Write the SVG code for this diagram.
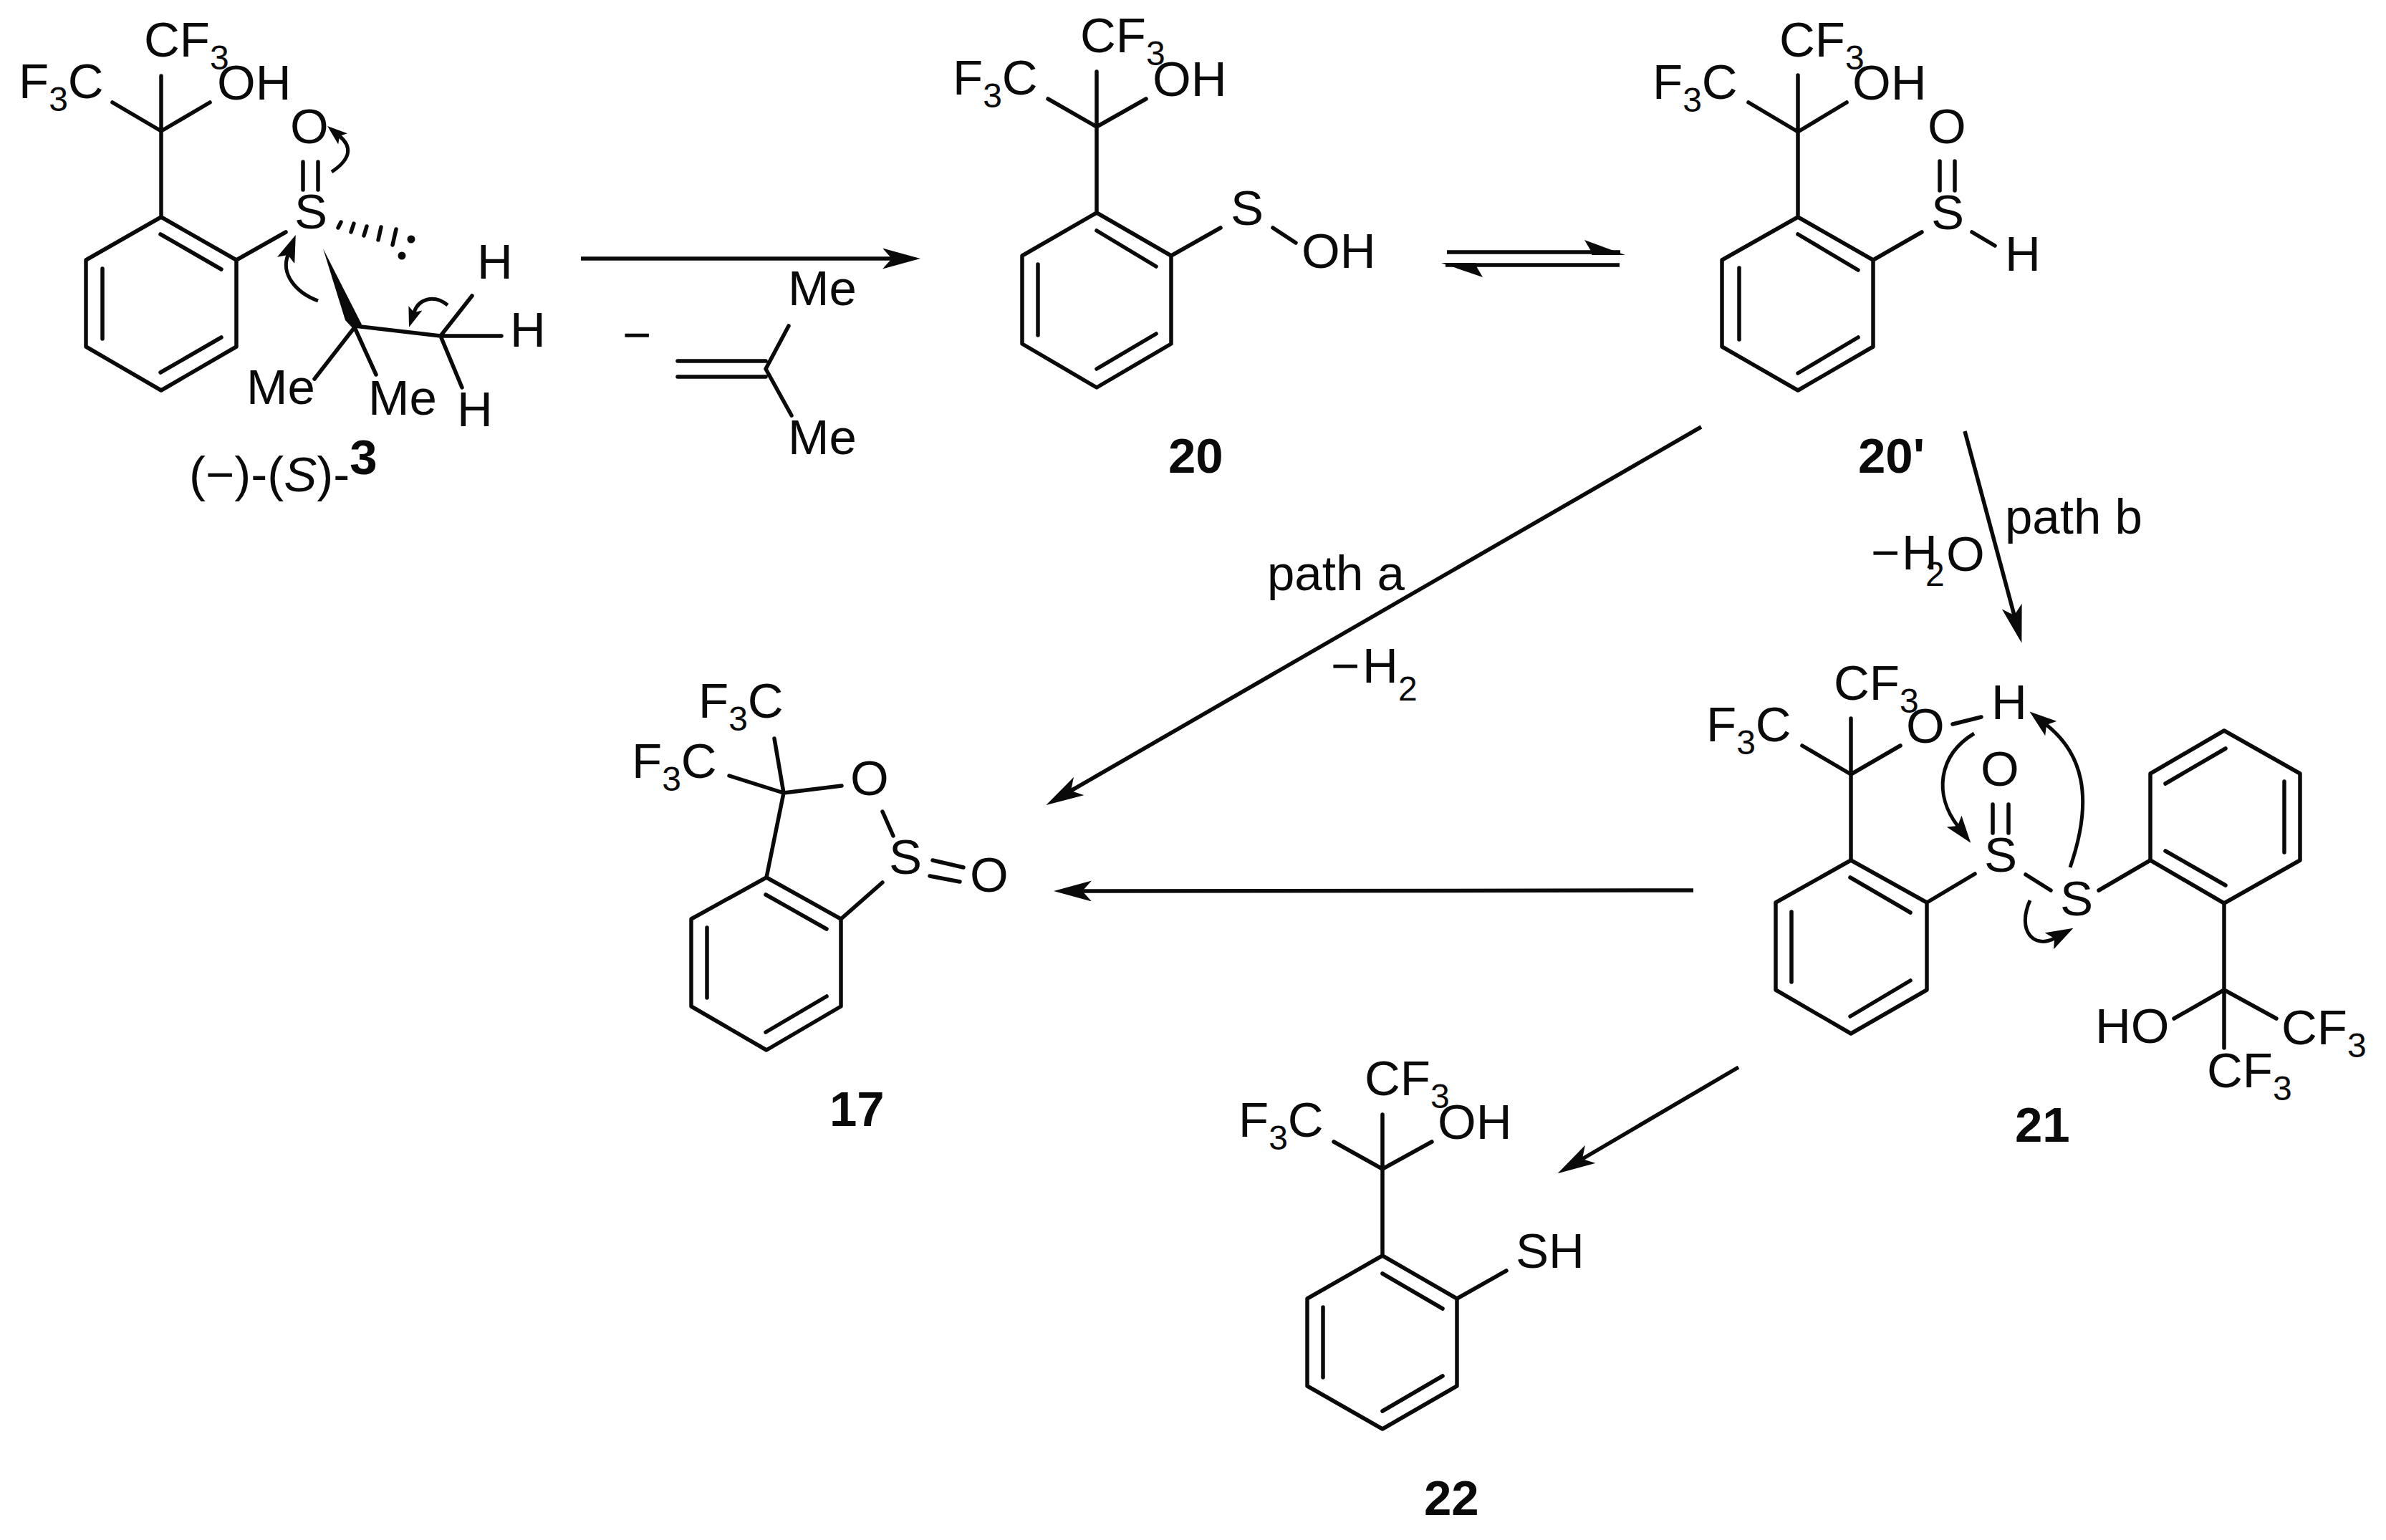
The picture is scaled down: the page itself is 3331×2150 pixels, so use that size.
<svg xmlns="http://www.w3.org/2000/svg" width="3331" height="2150" viewBox="0 0 3331 2150">
<defs>
<style>
text{font-family:"Liberation Sans",Arial,sans-serif;font-size:69px;fill:#0a0a0a}
.s{font-size:48px}
.b{font-weight:bold}
.i{font-style:italic}
.bond{fill:none;stroke:#0a0a0a;stroke-width:5.5;stroke-linecap:round;stroke-linejoin:round}
.arrow{fill:none;stroke:#0a0a0a;stroke-width:5.5;stroke-linecap:butt;marker-end:url(#head)}
.curl{fill:none;stroke:#0a0a0a;stroke-width:5;marker-end:url(#curlhead)}
.curls{fill:none;stroke:#0a0a0a;stroke-width:5;marker-end:url(#curlsmall)}
.line{fill:none;stroke:#0a0a0a;stroke-width:5.5}
.solid{fill:#0a0a0a;stroke:none}
</style>
<marker id="head" markerUnits="userSpaceOnUse" viewBox="0 0 53 29" markerWidth="53" markerHeight="29" refX="13" refY="14.5" orient="auto"><path d="M0 0L53 14.5L0 29L13 14.5Z" fill="#0a0a0a"/></marker>
<marker id="curlhead" markerUnits="userSpaceOnUse" viewBox="0 0 38 26" markerWidth="38" markerHeight="26" refX="8" refY="13" orient="auto"><path d="M0 0L38 13L0 26L8 13Z" fill="#0a0a0a"/></marker>
<marker id="curlsmall" markerUnits="userSpaceOnUse" viewBox="0 0 28 20" markerWidth="28" markerHeight="20" refX="6" refY="10" orient="auto"><path d="M0 0L28 10L0 20L6 10Z" fill="#0a0a0a"/></marker>
</defs>
<rect width="3331" height="2150" fill="#fff"/>

<g id="compound-3">
<path class="bond" d="M225 303L330 363V484L225 545L120 484V363ZM224 327L309 376M143 375V473M224 520L309 471M225 303V106M157 143L225 183L293 143M330 363L399 324M423 226V265M444 226V265M495 457L439 529M495 457L525 523M495 455L615 469M659 413L615 469L700 469M615 469L645 541"/>
<path class="bond" d="M476 310L472 318M494 312L490 324M512 316L508 329M532 317L528 335M553 320L548 342"/>
<path class="solid" d="M451 347L505 453L494 460L482 447Z"/>
<circle class="solid" cx="574" cy="334" r="5.5"/><circle class="solid" cx="561" cy="357" r="5.5"/>
<text x="201" y="79">CF<tspan class="s" dy="18">3</tspan></text>
<text x="26" y="137">F<tspan class="s" dy="18">3</tspan><tspan dy="-18">C</tspan></text>
<text x="303" y="139">OH</text>
<text x="411" y="319">S</text>
<text x="405" y="200">O</text>
<text x="344" y="564">Me</text>
<text x="514" y="579">Me</text>
<text x="666" y="389">H</text>
<text x="712" y="484">H</text>
<text x="638" y="595">H</text>
<text x="264" y="686">(−)-(<tspan class="i">S</tspan>)-<tspan class="b" dy="-24">3</tspan></text>
</g>

<g id="isobutene">
<path class="bond" d="M946 504H1069M946 526H1069M1101 455L1069 515L1105 580"/>
<text x="869" y="491">−</text>
<text x="1100" y="426">Me</text>
<text x="1100" y="634">Me</text>
</g>

<g id="compound-20">
<path class="bond" d="M1531 297L1635 357V480L1531 541L1427 480V357ZM1531 322L1614 372M1449 369V468M1531 515L1614 466M1531 297V100M1463 138L1531 177L1600 138M1635 357L1704 318M1777 318L1809 339"/>
<text x="1508" y="73">CF<tspan class="s" dy="18">3</tspan></text>
<text x="1330" y="132">F<tspan class="s" dy="18">3</tspan><tspan dy="-18">C</tspan></text>
<text x="1609" y="134">OH</text>
<text x="1718" y="314">S</text>
<text x="1817" y="374">OH</text>
<text class="b" x="1631" y="660">20</text>
</g>

<g id="compound-20prime">
<path class="bond" d="M2510 303L2615 363V484L2510 545L2404 484V363ZM2510 327L2594 377M2428 374V474M2510 521L2594 471M2510 303V105M2441 143L2510 184L2578 143M2708 225V266M2729 225V266M2615 363L2683 324M2753 324L2785 343"/>
<text x="2484" y="79">CF<tspan class="s" dy="18">3</tspan></text>
<text x="2307" y="138">F<tspan class="s" dy="18">3</tspan><tspan dy="-18">C</tspan></text>
<text x="2586" y="139">OH</text>
<text x="2691" y="200">O</text>
<text x="2696" y="320">S</text>
<text x="2799" y="378">H</text>
<text class="b" x="2594" y="660">20'</text>
</g>

<g id="compound-17">
<path class="bond" d="M1070 1225L1174 1283V1405L1070 1466L965 1405V1283ZM1069 1249L1154 1297M987 1295V1393M1069 1441L1154 1391M1070 1225L1094 1107M1081 1031L1094 1107L1018 1083M1094 1107L1175 1097M1232 1133L1247 1167M1174 1283L1232 1232M1302 1201L1345 1211M1298 1223L1340 1231"/>
<text x="975" y="1002">F<tspan class="s" dy="18">3</tspan><tspan dy="-18">C</tspan></text>
<text x="882" y="1086">F<tspan class="s" dy="18">3</tspan><tspan dy="-18">C</tspan></text>
<text x="1187" y="1110">O</text>
<text x="1241" y="1220">S</text>
<text x="1354" y="1245">O</text>
<text class="b" x="1158" y="1572">17</text>
</g>

<g id="compound-21">
<path class="bond" d="M2584 1201L2690 1260V1382L2584 1443L2479 1382V1260ZM2583 1225L2667 1274M2501 1273V1371M2583 1419L2667 1369M2584 1201V1003M2516 1041L2584 1081L2653 1041M2726 1011L2766 1001M2782 1123V1163M2804 1123V1163M2690 1260L2757 1220M2828 1221L2863 1243M2930 1243L3002 1201"/>
<path class="bond" d="M3002 1201L3105 1261L3211 1201V1080L3105 1020L3002 1080ZM3023 1188L3107 1236M3189 1091V1190M3023 1094L3107 1045M3105 1261V1463M3035 1422L3105 1382L3178 1422"/>
<text x="2560" y="977">CF<tspan class="s" dy="18">3</tspan></text>
<text x="2382" y="1035">F<tspan class="s" dy="18">3</tspan><tspan dy="-18">C</tspan></text>
<text x="2661" y="1037">O</text>
<text x="2780" y="1004">H</text>
<text x="2765" y="1097">O</text>
<text x="2770" y="1217">S</text>
<text x="2876" y="1278">S</text>
<text x="2925" y="1456">HO</text>
<text x="3185" y="1458">CF<tspan class="s" dy="18">3</tspan></text>
<text x="3081" y="1518">CF<tspan class="s" dy="18">3</tspan></text>
<text class="b" x="2813" y="1594">21</text>
</g>

<g id="compound-22">
<path class="bond" d="M1930 1753L2034 1813V1935L1930 1995L1825 1935V1813ZM1930 1778L2014 1827M1847 1825V1923M1930 1970L2014 1921M1930 1753V1556M1862 1594L1930 1632L1999 1594M2034 1813L2103 1774"/>
<text x="1905" y="1529">CF<tspan class="s" dy="18">3</tspan></text>
<text x="1729" y="1587">F<tspan class="s" dy="18">3</tspan><tspan dy="-18">C</tspan></text>
<text x="2007" y="1590">OH</text>
<text x="2116" y="1770">SH</text>
<text class="b" x="1988" y="2115">22</text>
</g>

<g id="labels">
<text x="1769" y="824">path a</text>
<text x="1858" y="953">−</text><text x="1902" y="953">H</text><text class="s" x="1952" y="978">2</text>
<text x="2799" y="745">path b</text>
<text x="2612" y="795">−</text><text x="2655" y="795">H</text><text class="s" x="2688" y="818">2</text><text x="2717" y="797">O</text>
</g>

<g id="connectors">
<path class="arrow" d="M811 361H1245"/>
<path class="line" d="M2020 352H2262M2261 370H2018"/>
<path class="solid" d="M2269 356L2212 335L2222 352L2222 356Z"/>
<path class="solid" d="M2012 367L2070 387L2060 370L2060 367Z"/>
<path class="arrow" d="M2375 596L1495 1104"/>
<path class="arrow" d="M2743 602L2812 859"/>
<path class="arrow" d="M2364 1243L1511 1244"/>
<path class="arrow" d="M2427 1490L2209 1618"/>
<path class="curls" d="M463 240C490 222 492 205 474 190"/>
<path class="curl" d="M444 420C412 408 392 382 402 356"/>
<path class="curls" d="M625 426C605 410 584 418 578 436"/>
<path class="curl" d="M2756 1024C2705 1055 2700 1110 2733 1153"/>
<path class="curl" d="M2890 1211C2925 1110 2905 1050 2857 1012"/>
<path class="curl" d="M2834 1257C2815 1300 2840 1325 2868 1310"/>
</g>
</svg>
